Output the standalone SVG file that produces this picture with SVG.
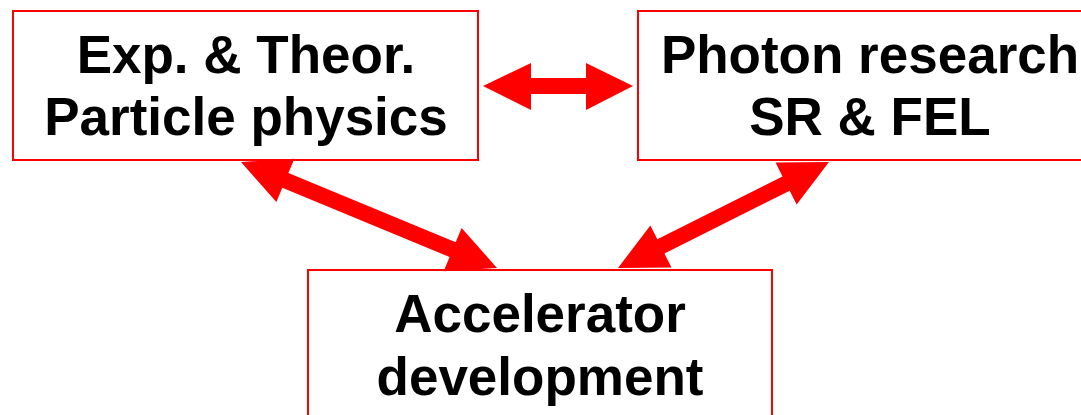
<svg xmlns="http://www.w3.org/2000/svg" width="1081" height="415" viewBox="0 0 1081 415">
  <style>
    .box { fill: #ffffff; stroke: #ff0000; stroke-width: 2; }
    .label { font-family: "Liberation Sans", Arial, sans-serif; font-weight: bold; font-size: 53px; fill: #000000; text-anchor: middle; }
    .link { fill: #ff0000; stroke: none; }
  </style>
  <rect width="1081" height="415" fill="#ffffff"/>

  <g id="particle-physics">
    <rect class="box" x="13" y="11" width="465" height="149"/>
    <text class="label" x="246" y="73">Exp. &amp; Theor.</text>
    <text class="label" x="246" y="135">Particle physics</text>
  </g>

  <g id="photon-research">
    <rect class="box" x="638" y="11" width="465" height="149"/>
    <text class="label" x="870" y="73">Photon research</text>
    <text class="label" x="870" y="135">SR &amp; FEL</text>
  </g>

  <g id="accelerator-development">
    <rect class="box" x="308" y="270" width="464" height="160"/>
    <text class="label" x="540" y="332">Accelerator</text>
    <text class="label" x="540" y="395">development</text>
  </g>

  <g id="connectors">
    <!-- particle physics <-> photon research -->
    <polygon class="link" points="483,86 531,63 531,78 586,78 586,63 633,86 586,110 586,94 531,94 531,110"/>
    <!-- particle physics <-> accelerator development -->
    <polygon class="link" points="241,162 276.37,202.09 282.30,187.76 449.58,257.02 443.65,271.35 497,268 461.63,227.91 455.70,242.24 288.42,172.98 294.35,158.65"/>
    <!-- photon research <-> accelerator development -->
    <polygon class="link" points="618,268 671.45,267.45 664.49,253.60 789.69,190.70 796.65,204.55 829,162 775.55,162.55 782.51,176.40 657.31,239.30 650.35,225.45"/>
  </g>
</svg>
